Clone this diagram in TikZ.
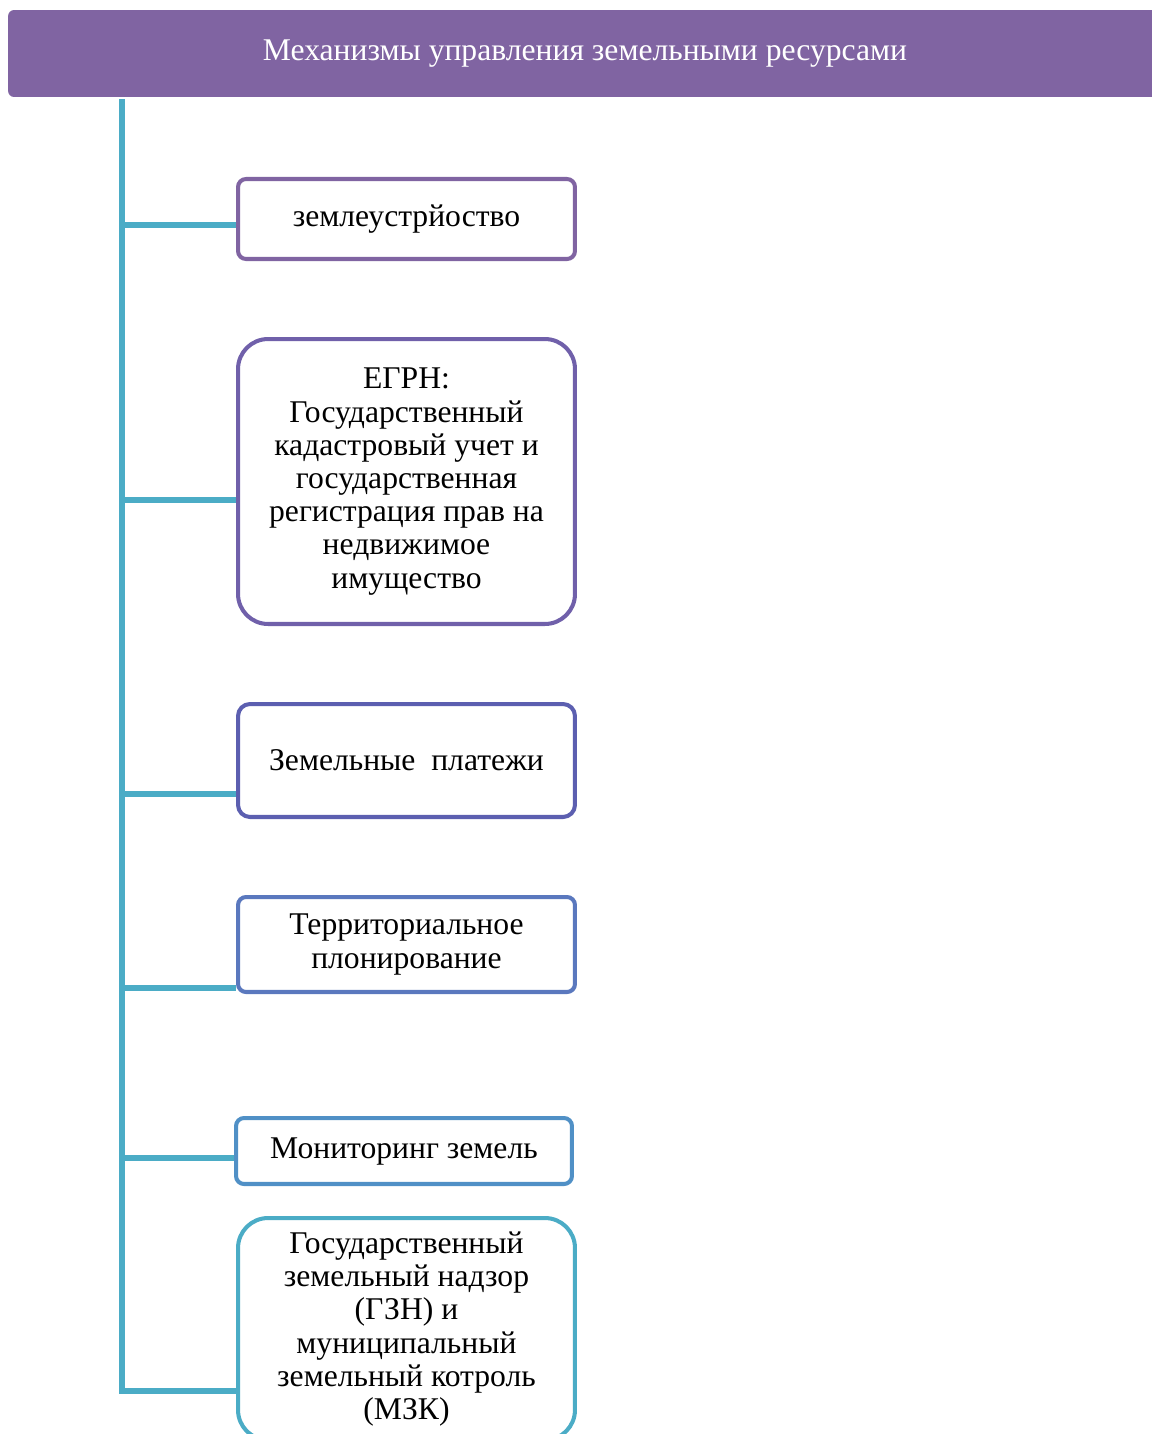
\documentclass[tikz,border=0pt]{standalone}
\usepackage{fontspec}
\setmainfont{Liberation Serif}
\definecolor{headpurple}{HTML}{8064A2}
\definecolor{boxa}{HTML}{8064A2}
\definecolor{boxb}{HTML}{7060AA}
\definecolor{boxc}{HTML}{5C5FB0}
\definecolor{boxd}{HTML}{5A78BE}
\definecolor{boxe}{HTML}{5090C6}
\definecolor{boxf}{HTML}{4BACC6}
\definecolor{trunkblue}{HTML}{4BACC6}

\begin{document}
\begin{tikzpicture}[x=0.02cm, y=-0.02cm,
	mech/.style={rectangle, draw, line width=2.3pt, fill=white, align=center, inner sep=2pt,
		minimum width=6.74cm, font=\fontsize{18}{18.9}\selectfont},
	branch/.style={trunkblue, line width=2.9pt}]
	\useasboundingbox (0,0) rectangle (1152,1434);
	\clip (0,0) rectangle (1152,1434);

	\node[rectangle, fill=headpurple, rounded corners=0.12cm, minimum width=23.08cm, minimum height=1.74cm,
		text=white, font=\fontsize{18}{18.9}\selectfont] (title) at (585,53.5) {Механизмы управления земельными ресурсами};

	\node[mech, draw=boxa, rounded corners=0.16cm, minimum height=1.6cm] (zem) at (406.5,219) {землеустрйоство};
	\node[mech, draw=boxb, rounded corners=0.6cm, minimum height=5.7cm] (egrn) at (406.5,481.5)
		{ЕГРН:\\Государственный\\кадастровый учет и\\государственная\\регистрация прав на\\недвижимое\\имущество};
	\node[mech, draw=boxc, rounded corners=0.24cm, minimum height=2.26cm] (plat) at (406.5,760.5) {Земельные\ \ платежи};
	\node[mech, draw=boxd, rounded corners=0.16cm, minimum height=1.9cm] (terr) at (406.5,944.5) {Территориальное\\плонирование};
	\node[mech, draw=boxe, rounded corners=0.16cm, minimum width=6.72cm, minimum height=1.32cm] (mon) at (404,1151) {Мониторинг земель};
	\node[mech, draw=boxf, rounded corners=0.6cm, minimum height=4.44cm] (gzn) at (406.5,1329)
		{Государственный\\земельный надзор\\(ГЗН) и\\муниципальный\\земельный котроль\\(МЗК)};

	% trunk and branches
	\coordinate (top) at (122,99);
	\coordinate (bot) at (122,1391);
	\draw[branch] (top) -- (bot) -- (bot -| gzn.west);
	\foreach \n/\y in {zem/225, egrn/500, plat/794, terr/988, mon/1158}
		\draw[branch] (top |- 0,\y) -- (\n.west |- 0,\y);
\end{tikzpicture}
\end{document}
